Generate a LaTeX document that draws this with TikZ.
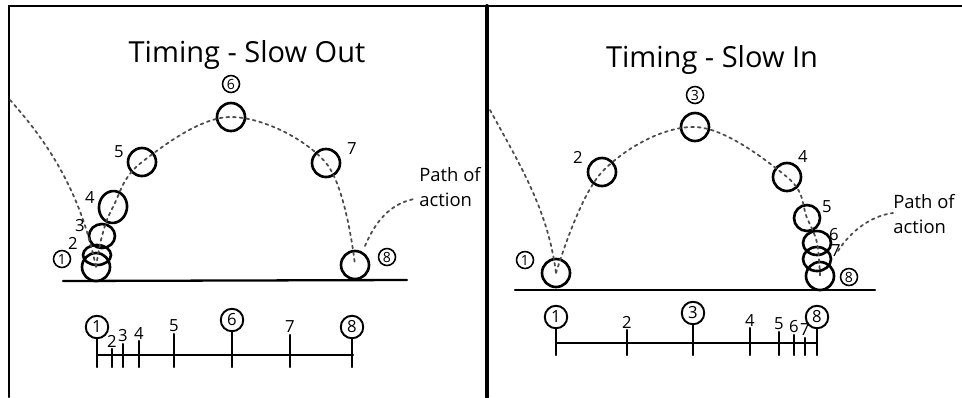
\documentclass[tikz,border=0pt]{standalone}
\usepackage{fontspec}
\setmainfont{Open Sans}
\usetikzlibrary{positioning}

\tikzset{
	ball/.style={line width=1.5pt},
	pathline/.style={line width=1pt, black!70, dash pattern=on 1.6pt off 2.2pt},
	groundline/.style={line width=1.3pt},
	ticks/.style={line width=1.2pt},
	title/.style={font=\fontsize{16.5}{19}\selectfont},
	num/.style={font=\fontsize{9.5}{10}\selectfont, inner sep=0.5pt},
	cnum/.style={draw, circle, line width=0.9pt, minimum size=0.34cm, inner sep=0pt, font=\fontsize{8}{8}\selectfont},
	tnum/.style={draw, circle, line width=1.1pt, minimum size=0.45cm, inner sep=0pt, font=\fontsize{9.5}{10}\selectfont},
	note/.style={align=left, font=\fontsize{10.5}{14}\selectfont},
}

\begin{document}
\begin{tikzpicture}[x=0.02cm, y=-0.02cm, line cap=round] %%%{{{
	\useasboundingbox (0,0) rectangle (962,397);
	% frame
	\draw[line width=1.3pt] (9,397) -- (9,6) -- (962,6);
	\draw[line width=2.3pt] (487,6) -- (487,397);

	%% slow out
	\node[title] (tout) at (247,55) {Timing - Slow Out};
	\coordinate (oin) at (10,100);
	\coordinate (o1) at (96,267);
	\coordinate (o2) at (97,255);
	\coordinate (o3) at (102,236);
	\coordinate (o4) at (113,207);
	\coordinate (o5) at (142,162);
	\coordinate (o6) at (231,117);
	\coordinate (o7) at (326,163);
	\coordinate (o8) at (355,265);
	\coordinate (og1) at (63,281);
	\coordinate (og2) at (407,280);
	\draw[groundline] (og1) -- (og2);
	\foreach \x in {o1,o5,o6,o7,o8} \draw[ball] (\x) circle (14);
	\draw[ball] (o2) ellipse [x radius=14, y radius=10];
	\draw[ball] (o3) ellipse [x radius=13, y radius=12];
	\draw[ball, rotate around={-8:(o4)}] (o4) ellipse [x radius=14, y radius=16];
	\draw[pathline] (oin) .. controls (55,150) and (82,200) .. (o1);
	\draw[pathline] plot[smooth, tension=0.6] coordinates {(o1) (o3) (o4) (o5) (o6) (o7) (o8)};
	\node[cnum] (lo1) at (62,259) {1};
	\node[num] (lo2) at (73,243) {2};
	\node[num] (lo3) at (80,226) {3};
	\node[num] (lo4) at (90,197) {4};
	\node[num] (lo5) at (119,152) {5};
	\node[cnum] (lo6) at (231,84) {6};
	\node[num] (lo7) at (352,149) {7};
	\node[cnum] (lo8) at (387,257) {8};
	\node[note] (pout) at (450,187) {Path of\\action};
	\coordinate (pouta) at (365,246);
	\coordinate (poutb) at (414,199);
	\draw[pathline] (pouta) .. controls (378,215) and (395,203) .. (poutb);
	% spacing chart
	\coordinate (ta) at (97,355);
	\coordinate (tb) at (353,355);
	\draw[ticks] (ta) -- (tb);
	\foreach \x/\y/\n in {97/327/1,232/320/6,352/327/8} {
		\node[tnum] (ot\n) at (\x,\y) {\n};
		\draw[ticks] (ot\n.south) -- (\x,367);
	}
	\foreach \x/\y/\n in {112/341/2,123/336/3,139/333/4,174/326/5,290/327/7} {
		\node[num] (ot\n) at (\x,\y) {\n};
		\draw[ticks] (\x,\y+8) -- (\x,367);
	}

	%% slow in
	\node[title] (tin) at (712,60) {Timing - Slow In};
	\coordinate (iin) at (490,110);
	\coordinate (i1) at (556,273);
	\coordinate (i2) at (602,172);
	\coordinate (i3) at (695,127);
	\coordinate (i4) at (787,177);
	\coordinate (i5) at (807,218);
	\coordinate (i6) at (817,243);
	\coordinate (i7) at (817,259);
	\coordinate (i8) at (820,276);
	\coordinate (ig1) at (515,290);
	\coordinate (ig2) at (875,290);
	\draw[groundline] (ig1) -- (ig2);
	\foreach \x in {i1,i2,i3,i4,i8} \draw[ball] (\x) circle (14);
	\draw[ball] (i5) circle (13);
	\draw[ball] (i6) ellipse [x radius=14, y radius=12];
	\draw[ball] (i7) ellipse [x radius=14, y radius=12];
	\draw[pathline] (iin) .. controls (520,165) and (548,210) .. (i1);
	\draw[pathline] plot[smooth, tension=0.6] coordinates {(i1) (i2) (i3) (i4) (i5) (i6) (i8)};
	\node[cnum] (li1) at (525,260) {1};
	\node[num] (li2) at (578,157) {2};
	\node[cnum] (li3) at (695,95) {3};
	\node[num] (li4) at (803,157) {4};
	\node[num] (li5) at (827,207) {5};
	\node[num] (li6) at (834,235) {6};
	\node[num] (li7) at (836,251) {7};
	\node[cnum] (li8) at (849,277) {8};
	\node[note] (pin) at (924,214) {Path of\\action};
	\coordinate (pina) at (838,251);
	\coordinate (pinb) at (893,213);
	\draw[pathline] (pina) .. controls (850,232) and (870,216) .. (pinb);
	% spacing chart
	\coordinate (sa) at (556,343);
	\coordinate (sb) at (817,343);
	\draw[ticks] (sa) -- (sb);
	\foreach \x/\y/\n in {556/317/1,693/313/3,817/317/8} {
		\node[tnum] (it\n) at (\x,\y) {\n};
		\draw[ticks] (it\n.south) -- (\x,355);
	}
	\foreach \x/\y/\n in {627/322/2,750/320/4,779/324/5,794/327/6,805/330/7} {
		\node[num] (it\n) at (\x,\y) {\n};
		\draw[ticks] (\x,\y+8) -- (\x,355);
	}
\end{tikzpicture}
\end{document}
